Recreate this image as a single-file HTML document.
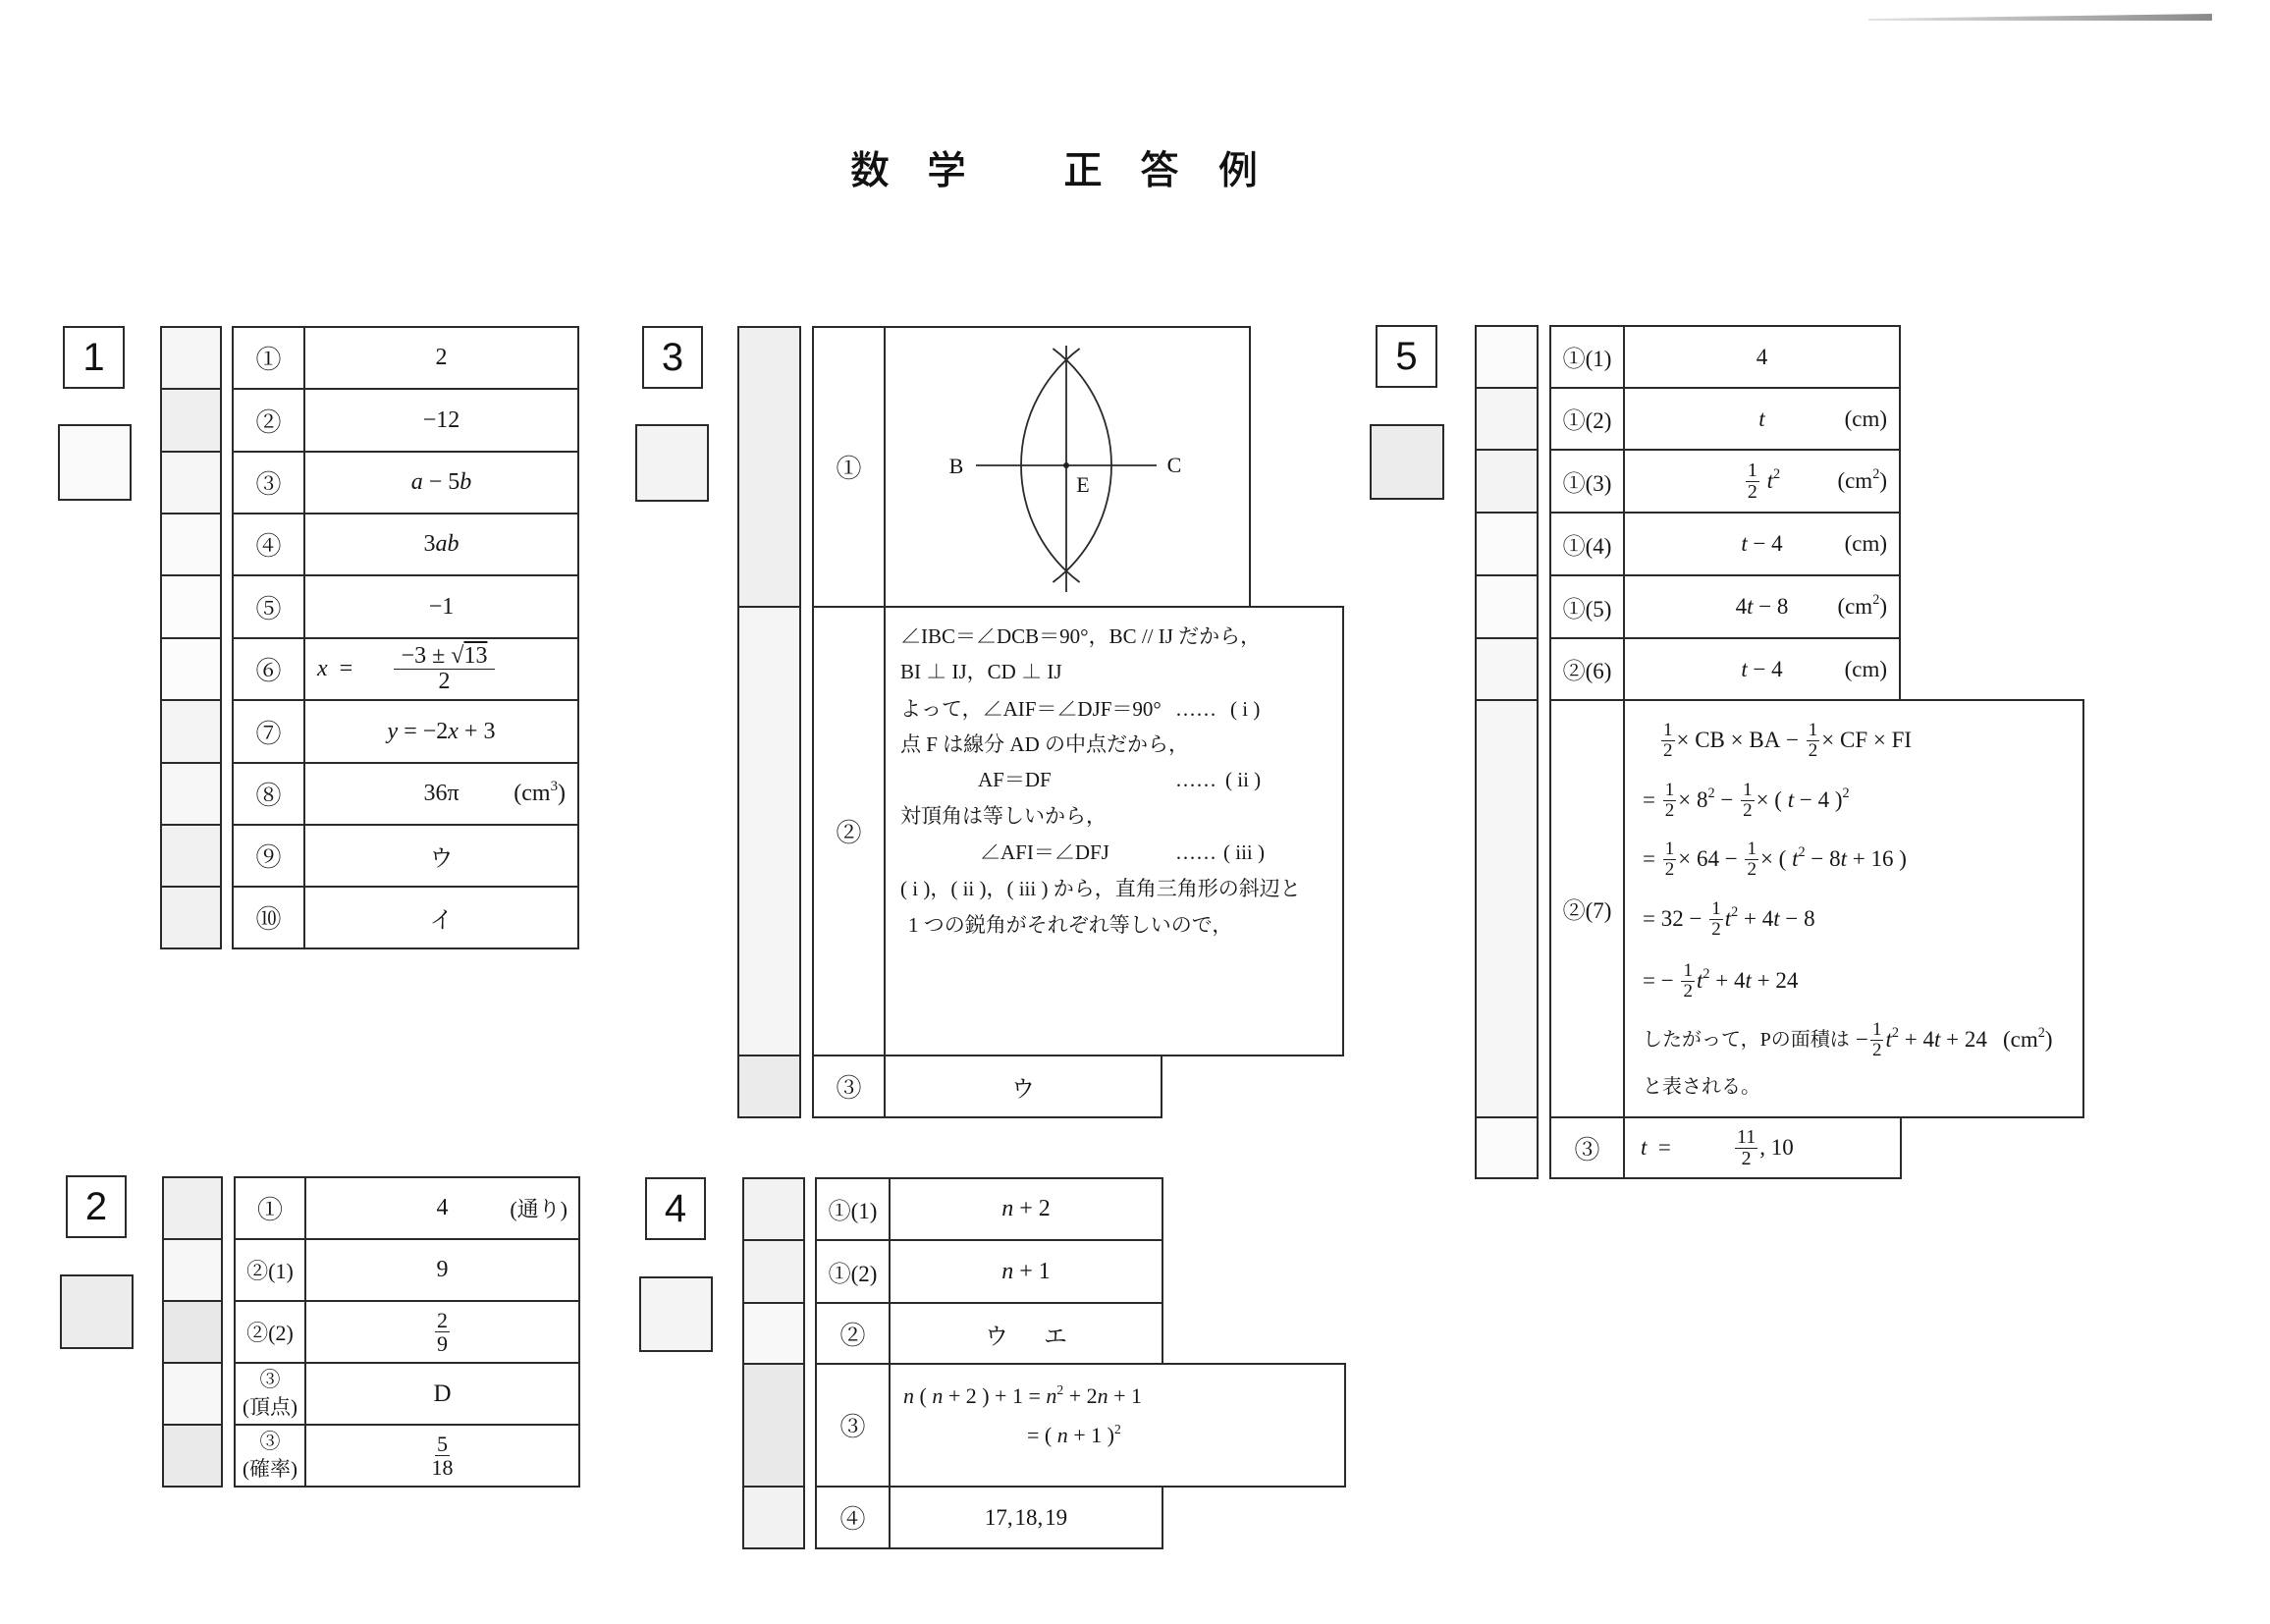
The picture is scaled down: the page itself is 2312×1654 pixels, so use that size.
<!DOCTYPE html>
<html><head><meta charset="utf-8">
<style>
*{box-sizing:border-box}
body{margin:0;width:2312px;height:1654px;background:#fff;position:relative;overflow:hidden;font-family:"Liberation Serif","Noto Serif CJK SC",serif;color:#161616}
.b{position:absolute;border:2px solid #2a2a2a}
.t{display:flex;align-items:center;justify-content:center;white-space:nowrap;font-size:24px}
.a{position:absolute;white-space:nowrap}
.v{position:absolute;top:0;bottom:0;display:flex;align-items:center;white-space:nowrap}
.n{font-family:"Liberation Sans",sans-serif;font-size:40px;display:flex;align-items:center;justify-content:center;color:#111}
.fr{display:inline-flex;flex-direction:column;align-items:center;vertical-align:middle;line-height:1.05;font-size:19px;margin:0 2px}
.fr>span:first-child{border-bottom:1.5px solid #222;padding:0 2px}
.s{font-size:0.62em;position:relative;top:-0.45em;line-height:1}
.ln{position:absolute;white-space:nowrap;font-size:21px;line-height:30px;height:30px;display:flex;align-items:center}
.ti{position:absolute;font-family:"Noto Sans CJK JP",sans-serif;font-size:40px;line-height:44px;width:40px;text-align:center;top:148px;font-weight:500;color:#111}
.col{flex-direction:column;line-height:1.3;font-size:21px}
.c{font-size:26px}
</style></head><body>

<svg class="a" style="left:0;top:0" width="2312" height="1654">
<defs><linearGradient id="lg" x1="0" x2="1" y1="0" y2="0"><stop offset="0" stop-color="#e4e4e4"/><stop offset="1" stop-color="#8a8a8a"/></linearGradient></defs>
<polygon points="1903,19 2253,14 2253,21 1903,21" fill="url(#lg)"/>
<g stroke="#2a2a2a" stroke-width="1.8" fill="none">
<line x1="994" y1="474" x2="1178" y2="474"/>
<line x1="1086" y1="352" x2="1086" y2="603"/>
<path d="M1099.6 355 A148.6 148.6 0 0 0 1099.6 593"/>
<path d="M1072.4 355 A148.6 148.6 0 0 1 1072.4 593"/>
</g>
<circle cx="1086" cy="474" r="3" fill="#222"/>
</svg>

<!-- Title -->
<div class="ti" style="left:866px">数</div>
<div class="ti" style="left:944px">学</div>
<div class="ti" style="left:1083px">正</div>
<div class="ti" style="left:1161px">答</div>
<div class="ti" style="left:1241px">例</div>

<!-- ========== Section 1 ========== -->
<div class="b n" style="left:64px;top:332px;width:63px;height:64px">1</div>
<div class="b" style="left:59px;top:432px;width:75px;height:78px;background:#f9f9f9"></div>

<div class="b" style="left:163px;top:332px;width:63px;height:65px;background:#f6f6f6"></div>
<div class="b" style="left:163px;top:395px;width:63px;height:66px;background:#efefef"></div>
<div class="b" style="left:163px;top:459px;width:63px;height:65px;background:#f6f6f6"></div>
<div class="b" style="left:163px;top:522px;width:63px;height:65px;background:#fafafa"></div>
<div class="b" style="left:163px;top:585px;width:63px;height:66px;background:#fcfcfc"></div>
<div class="b" style="left:163px;top:649px;width:63px;height:65px;background:#fcfcfc"></div>
<div class="b" style="left:163px;top:712px;width:63px;height:66px;background:#f4f4f4"></div>
<div class="b" style="left:163px;top:776px;width:63px;height:65px;background:#f7f7f7"></div>
<div class="b" style="left:163px;top:839px;width:63px;height:65px;background:#f0f0f0"></div>
<div class="b" style="left:163px;top:902px;width:63px;height:65px;background:#f0f0f0"></div>

<div class="b t c" style="left:236px;top:332px;width:75px;height:65px">①</div>
<div class="b t c" style="left:236px;top:395px;width:75px;height:66px">②</div>
<div class="b t c" style="left:236px;top:459px;width:75px;height:65px">③</div>
<div class="b t c" style="left:236px;top:522px;width:75px;height:65px">④</div>
<div class="b t c" style="left:236px;top:585px;width:75px;height:66px">⑤</div>
<div class="b t c" style="left:236px;top:649px;width:75px;height:65px">⑥</div>
<div class="b t c" style="left:236px;top:712px;width:75px;height:66px">⑦</div>
<div class="b t c" style="left:236px;top:776px;width:75px;height:65px">⑧</div>
<div class="b t c" style="left:236px;top:839px;width:75px;height:65px">⑨</div>
<div class="b t c" style="left:236px;top:902px;width:75px;height:65px">⑩</div>

<div class="b t" style="left:309px;top:332px;width:281px;height:65px">2</div>
<div class="b t" style="left:309px;top:395px;width:281px;height:66px">−12</div>
<div class="b t" style="left:309px;top:459px;width:281px;height:65px"><i>a</i>&nbsp;−&nbsp;5<i>b</i></div>
<div class="b t" style="left:309px;top:522px;width:281px;height:65px">3<i>ab</i></div>
<div class="b t" style="left:309px;top:585px;width:281px;height:66px">−1</div>
<div class="b t" style="left:309px;top:649px;width:281px;height:65px"><span class="v" style="left:12px"><i>x</i>&nbsp;&nbsp;=</span><span class="fr" style="font-size:24px;margin-left:8px"><span>&nbsp;−3&nbsp;±&nbsp;√<span style="text-decoration:overline">13</span>&nbsp;</span><span>2</span></span></div>
<div class="b t" style="left:309px;top:712px;width:281px;height:66px"><i>y</i>&nbsp;=&nbsp;−2<i>x</i>&nbsp;+&nbsp;3</div>
<div class="b t" style="left:309px;top:776px;width:281px;height:65px">36π<span class="v" style="right:12px">(cm<span class="s">3</span>)</span></div>
<div class="b t" style="left:309px;top:839px;width:281px;height:65px">ウ</div>
<div class="b t" style="left:309px;top:902px;width:281px;height:65px">イ</div>

<!-- ========== Section 2 ========== -->
<div class="b n" style="left:67px;top:1197px;width:62px;height:64px;font-family:'Liberation Sans Narrow','Liberation Sans',sans-serif">2</div>
<div class="b" style="left:61px;top:1298px;width:75px;height:76px;background:#ececec"></div>

<div class="b" style="left:165px;top:1198px;width:62px;height:65px;background:#efefef"></div>
<div class="b" style="left:165px;top:1261px;width:62px;height:65px;background:#f7f7f7"></div>
<div class="b" style="left:165px;top:1324px;width:62px;height:65px;background:#e8e8e8"></div>
<div class="b" style="left:165px;top:1387px;width:62px;height:65px;background:#f7f7f7"></div>
<div class="b" style="left:165px;top:1450px;width:62px;height:65px;background:#eaeaea"></div>

<div class="b t c" style="left:238px;top:1198px;width:74px;height:65px">①</div>
<div class="b t" style="left:238px;top:1261px;width:74px;height:65px;font-size:22px">②(1)</div>
<div class="b t" style="left:238px;top:1324px;width:74px;height:65px;font-size:22px">②(2)</div>
<div class="b t col" style="left:238px;top:1387px;width:74px;height:65px"><span>③</span><span>(頂点)</span></div>
<div class="b t col" style="left:238px;top:1450px;width:74px;height:65px"><span>③</span><span>(確率)</span></div>

<div class="b t" style="left:310px;top:1198px;width:281px;height:65px;font-size:24px">4<span class="v" style="right:11px;font-size:22px">(通り)</span></div>
<div class="b t" style="left:310px;top:1261px;width:281px;height:65px;font-size:24px">9</div>
<div class="b t" style="left:310px;top:1324px;width:281px;height:65px"><span class="fr" style="font-size:22px"><span>2</span><span>9</span></span></div>
<div class="b t" style="left:310px;top:1387px;width:281px;height:65px;font-size:25px">D</div>
<div class="b t" style="left:310px;top:1450px;width:281px;height:65px"><span class="fr" style="font-size:22px"><span>5</span><span>18</span></span></div>

<!-- ========== Section 3 ========== -->
<div class="b n" style="left:654px;top:332px;width:62px;height:64px">3</div>
<div class="b" style="left:647px;top:432px;width:75px;height:79px;background:#f3f3f3"></div>

<div class="b" style="left:751px;top:332px;width:65px;height:287px;background:#efefef"></div>
<div class="b" style="left:751px;top:617px;width:65px;height:459px;background:#f5f5f5"></div>
<div class="b" style="left:751px;top:1074px;width:65px;height:65px;background:#ebebeb"></div>

<div class="b t c" style="left:827px;top:332px;width:75px;height:287px">①</div>
<div class="b t c" style="left:827px;top:617px;width:75px;height:459px">②</div>
<div class="b t c" style="left:827px;top:1074px;width:75px;height:65px">③</div>

<div class="b" style="left:900px;top:332px;width:374px;height:287px"></div>
<div class="b" style="left:900px;top:617px;width:469px;height:459px"></div>
<div class="b t" style="left:900px;top:1074px;width:284px;height:65px">ウ</div>

<div class="a" style="left:963px;top:460px;width:22px;text-align:center;font-size:22px;line-height:30px">B</div>
<div class="a" style="left:1185px;top:459px;width:22px;text-align:center;font-size:22px;line-height:30px">C</div>
<div class="a" style="left:1092px;top:479px;width:22px;text-align:center;font-size:22px;line-height:30px">E</div>

<div class="ln" style="left:917px;top:633px">∠IBC＝∠DCB＝90°，BC // IJ だから，</div>
<div class="ln" style="left:917px;top:669px">BI ⊥ IJ，CD ⊥ IJ</div>
<div class="ln" style="left:917px;top:707px">よって，∠AIF＝∠DJF＝90°</div>
<div class="ln" style="left:1197px;top:707px">……</div>
<div class="ln" style="left:1253px;top:707px">( i )</div>
<div class="ln" style="left:917px;top:743px">点 F は線分 AD の中点だから，</div>
<div class="ln" style="left:996px;top:779px">AF＝DF</div>
<div class="ln" style="left:1197px;top:779px">……</div>
<div class="ln" style="left:1248px;top:779px">( ii )</div>
<div class="ln" style="left:917px;top:816px">対頂角は等しいから，</div>
<div class="ln" style="left:998px;top:853px">∠AFI＝∠DFJ</div>
<div class="ln" style="left:1197px;top:853px">……</div>
<div class="ln" style="left:1246px;top:853px">( iii )</div>
<div class="ln" style="left:917px;top:890px">( i )，( ii )，( iii ) から，直角三角形の斜辺と</div>
<div class="ln" style="left:925px;top:927px">1 つの鋭角がそれぞれ等しいので，</div>

<!-- ========== Section 4 ========== -->
<div class="b n" style="left:657px;top:1199px;width:62px;height:64px;font-family:'Liberation Sans Narrow','Liberation Sans',sans-serif">4</div>
<div class="b" style="left:651px;top:1300px;width:75px;height:77px;background:#f4f4f4"></div>

<div class="b" style="left:756px;top:1199px;width:64px;height:65px;background:#f2f2f2"></div>
<div class="b" style="left:756px;top:1262px;width:64px;height:66px;background:#f2f2f2"></div>
<div class="b" style="left:756px;top:1326px;width:64px;height:64px;background:#f8f8f8"></div>
<div class="b" style="left:756px;top:1388px;width:64px;height:127px;background:#e9e9e9"></div>
<div class="b" style="left:756px;top:1513px;width:64px;height:65px;background:#f2f2f2"></div>

<div class="b t" style="left:830px;top:1199px;width:77px;height:65px;font-size:23px">①(1)</div>
<div class="b t" style="left:830px;top:1262px;width:77px;height:66px;font-size:23px">①(2)</div>
<div class="b t c" style="left:830px;top:1326px;width:77px;height:64px">②</div>
<div class="b t c" style="left:830px;top:1388px;width:77px;height:127px">③</div>
<div class="b t c" style="left:830px;top:1513px;width:77px;height:65px">④</div>

<div class="b t" style="left:905px;top:1199px;width:280px;height:65px;font-size:24px"><i>n</i>&nbsp;+&nbsp;2</div>
<div class="b t" style="left:905px;top:1262px;width:280px;height:66px;font-size:24px"><i>n</i>&nbsp;+&nbsp;1</div>
<div class="b t" style="left:905px;top:1326px;width:280px;height:64px"><span>ウ</span><span style="margin-left:36px">エ</span></div>
<div class="b" style="left:905px;top:1388px;width:466px;height:127px"></div>
<div class="b t" style="left:905px;top:1513px;width:280px;height:65px;font-size:23px">17,&#8202;18,&#8202;19</div>

<div class="ln" style="left:920px;top:1407px;font-size:22px"><i>n</i>&nbsp;(&nbsp;<i>n</i>&nbsp;+&nbsp;2&nbsp;)&nbsp;+&nbsp;1&nbsp;=&nbsp;<i>n</i><span class="s">2</span>&nbsp;+&nbsp;2<i>n</i>&nbsp;+&nbsp;1</div>
<div class="ln" style="left:1046px;top:1447px;font-size:22px">=&nbsp;(&nbsp;<i>n</i>&nbsp;+&nbsp;1&nbsp;)<span class="s">2</span></div>

<!-- ========== Section 5 ========== -->
<div class="b n" style="left:1401px;top:331px;width:63px;height:64px">5</div>
<div class="b" style="left:1395px;top:432px;width:76px;height:77px;background:#ececec"></div>

<div class="b" style="left:1502px;top:331px;width:65px;height:65px;background:#fbfbfb"></div>
<div class="b" style="left:1502px;top:394px;width:65px;height:65px;background:#f5f5f5"></div>
<div class="b" style="left:1502px;top:457px;width:65px;height:66px;background:#f3f3f3"></div>
<div class="b" style="left:1502px;top:521px;width:65px;height:66px;background:#fbfbfb"></div>
<div class="b" style="left:1502px;top:585px;width:65px;height:66px;background:#fbfbfb"></div>
<div class="b" style="left:1502px;top:649px;width:65px;height:65px;background:#f7f7f7"></div>
<div class="b" style="left:1502px;top:712px;width:65px;height:427px;background:#f6f6f6"></div>
<div class="b" style="left:1502px;top:1137px;width:65px;height:64px;background:#fbfbfb"></div>

<div class="b t" style="left:1578px;top:331px;width:77px;height:65px;font-size:23px">①(1)</div>
<div class="b t" style="left:1578px;top:394px;width:77px;height:65px;font-size:23px">①(2)</div>
<div class="b t" style="left:1578px;top:457px;width:77px;height:66px;font-size:23px">①(3)</div>
<div class="b t" style="left:1578px;top:521px;width:77px;height:66px;font-size:23px">①(4)</div>
<div class="b t" style="left:1578px;top:585px;width:77px;height:66px;font-size:23px">①(5)</div>
<div class="b t" style="left:1578px;top:649px;width:77px;height:65px;font-size:23px">②(6)</div>
<div class="b t" style="left:1578px;top:712px;width:77px;height:427px;font-size:23px">②(7)</div>
<div class="b t c" style="left:1578px;top:1137px;width:77px;height:64px">③</div>

<div class="b t" style="left:1653px;top:331px;width:283px;height:65px;font-size:23px">4</div>
<div class="b t" style="left:1653px;top:394px;width:283px;height:65px;font-size:23px"><i>t</i><span class="v" style="right:12px">(cm)</span></div>
<div class="b t" style="left:1653px;top:457px;width:283px;height:66px;font-size:23px"><span class="fr" style="font-size:20px"><span>1</span><span>2</span></span>&nbsp;<i>t</i><span class="s">2</span><span class="v" style="right:12px">(cm<span class="s">2</span>)</span></div>
<div class="b t" style="left:1653px;top:521px;width:283px;height:66px;font-size:23px"><i>t</i>&nbsp;−&nbsp;4<span class="v" style="right:12px">(cm)</span></div>
<div class="b t" style="left:1653px;top:585px;width:283px;height:66px;font-size:23px">4<i>t</i>&nbsp;−&nbsp;8<span class="v" style="right:12px">(cm<span class="s">2</span>)</span></div>
<div class="b t" style="left:1653px;top:649px;width:283px;height:65px;font-size:23px"><i>t</i>&nbsp;−&nbsp;4<span class="v" style="right:12px">(cm)</span></div>
<div class="b" style="left:1653px;top:712px;width:470px;height:427px"></div>
<div class="b t" style="left:1653px;top:1137px;width:284px;height:64px;font-size:23px"><span class="v" style="left:16px"><i>t</i>&nbsp;&nbsp;=</span><span class="v" style="left:110px"><span class="fr" style="font-size:20px"><span>11</span><span>2</span></span>,&nbsp;10</span></div>

<div class="ln" style="left:1690px;top:739px;font-size:23px"><span class="fr"><span>1</span><span>2</span></span>×&nbsp;CB&nbsp;×&nbsp;BA&nbsp;−&nbsp;<span class="fr"><span>1</span><span>2</span></span>×&nbsp;CF&nbsp;×&nbsp;FI</div>
<div class="ln" style="left:1673px;top:800px;font-size:23px">=&nbsp;<span class="fr"><span>1</span><span>2</span></span>×&nbsp;8<span class="s">2</span>&nbsp;−&nbsp;<span class="fr"><span>1</span><span>2</span></span>×&nbsp;(&nbsp;<i>t</i>&nbsp;−&nbsp;4&nbsp;)<span class="s">2</span></div>
<div class="ln" style="left:1673px;top:860px;font-size:23px">=&nbsp;<span class="fr"><span>1</span><span>2</span></span>×&nbsp;64&nbsp;−&nbsp;<span class="fr"><span>1</span><span>2</span></span>×&nbsp;(&nbsp;<i>t</i><span class="s">2</span>&nbsp;−&nbsp;8<i>t</i>&nbsp;+&nbsp;16&nbsp;)</div>
<div class="ln" style="left:1673px;top:921px;font-size:23px">=&nbsp;32&nbsp;−&nbsp;<span class="fr"><span>1</span><span>2</span></span><i>t</i><span class="s">2</span>&nbsp;+&nbsp;4<i>t</i>&nbsp;−&nbsp;8</div>
<div class="ln" style="left:1673px;top:984px;font-size:23px">=&nbsp;−&nbsp;<span class="fr"><span>1</span><span>2</span></span><i>t</i><span class="s">2</span>&nbsp;+&nbsp;4<i>t</i>&nbsp;+&nbsp;24</div>
<div class="ln" style="left:1673px;top:1044px;font-size:20px">したがって，Pの面積は</div>
<div class="ln" style="left:1890px;top:1044px;font-size:23px">−<span class="fr"><span>1</span><span>2</span></span><i>t</i><span class="s">2</span>&nbsp;+&nbsp;4<i>t</i>&nbsp;+&nbsp;24</div>
<div class="ln" style="left:2040px;top:1044px;font-size:23px">(cm<span class="s">2</span>)</div>
<div class="ln" style="left:1673px;top:1092px;font-size:20px">と表される。</div>

</body></html>
